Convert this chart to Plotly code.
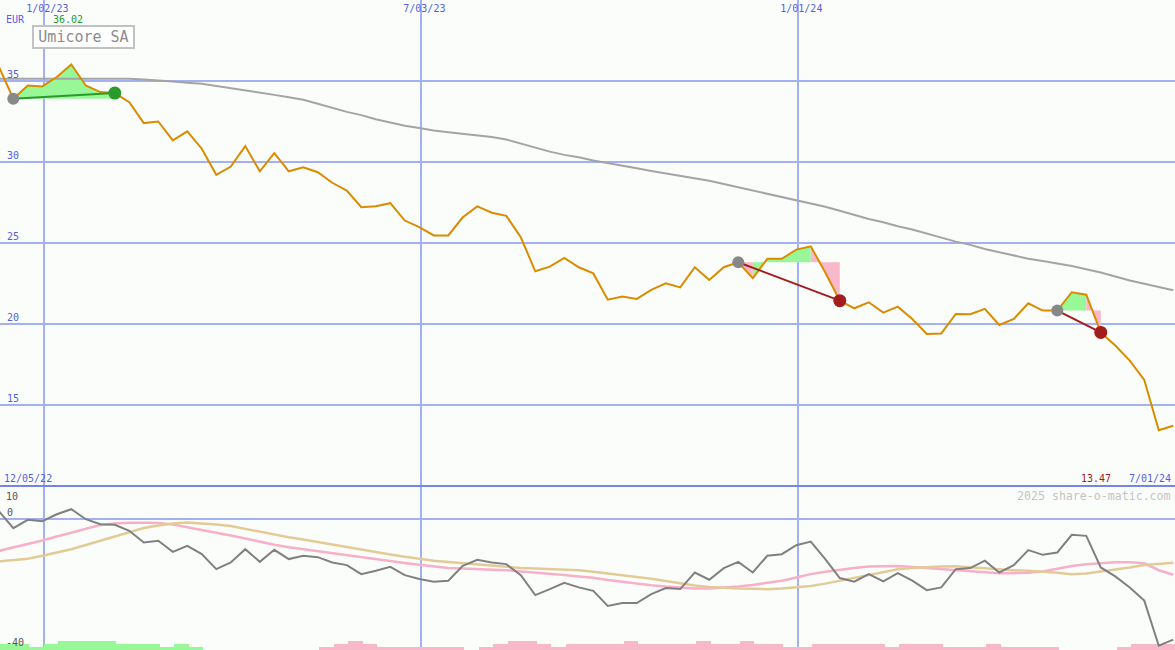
import pandas as pd
import plotly.graph_objects as go

# ---------------- data (weekly) ----------------
week_dates = pd.date_range("2022-12-11", periods=82, freq="7D")

price = [35.90, 33.91, 34.73, 34.67, 35.25, 36.02, 34.73, 34.32, 34.26, 33.70,
         32.41, 32.51, 31.34, 31.90, 30.83, 29.22, 29.73, 30.99, 29.44, 30.56,
         29.44, 29.69, 29.38, 28.73, 28.25, 27.22, 27.28, 27.47, 26.40, 25.99,
         25.48, 25.48, 26.60, 27.27, 26.88, 26.69, 25.37, 23.27, 23.56, 24.10,
         23.52, 23.14, 21.52, 21.71, 21.57, 22.12, 22.53, 22.28, 23.52, 22.74,
         23.52, 23.83, 22.84, 24.04, 24.04, 24.61, 24.81, 23.20, 21.46, 20.99,
         21.36, 20.72, 21.09, 20.33, 19.41, 19.44, 20.64, 20.62, 20.95, 19.96,
         20.33, 21.30, 20.85, 20.85, 21.98, 21.83, 19.50, 18.69, 17.76, 16.57,
         13.47, 13.75]

ma40 = [35.15, 35.15, 35.15, 35.15, 35.15, 35.16, 35.17, 35.17, 35.16, 35.14,
        35.10, 35.05, 34.97, 34.90, 34.83, 34.70, 34.57, 34.44, 34.30, 34.15,
        34.00, 33.85, 33.60, 33.35, 33.10, 32.90, 32.65, 32.45, 32.25, 32.10,
        31.95, 31.85, 31.75, 31.65, 31.55, 31.40, 31.15, 30.90, 30.65, 30.45,
        30.30, 30.10, 29.95, 29.80, 29.62, 29.45, 29.30, 29.15, 29.00, 28.85,
        28.65, 28.45, 28.25, 28.05, 27.85, 27.65, 27.45, 27.25, 27.00, 26.75,
        26.50, 26.30, 26.05, 25.85, 25.60, 25.35, 25.10, 24.90, 24.65, 24.45,
        24.25, 24.05, 23.90, 23.75, 23.60, 23.40, 23.20, 22.95, 22.70, 22.50,
        22.30, 22.10]

deviation = [2.5, -2.75, -0.2, -0.6, 1.5, 3.05, 0.0, -1.53, -1.73, -3.56,
             -7.12, -6.6, -9.97, -8.14, -10.69, -15.27, -13.24, -9.16, -13.04, -9.36,
             -12.2, -11.2, -11.6, -13.24, -14.05, -16.8, -15.78, -14.56, -17.1, -18.3,
             -19.1, -18.8, -14.25, -12.4, -13.24, -13.74, -17.1, -23.2, -21.37, -19.45,
             -20.86, -21.9, -26.5, -25.65, -25.65, -22.9, -21.07, -21.37, -16.3, -18.5,
             -14.96, -13.04, -16.3, -11.2, -10.7, -7.94, -6.82, -12.2, -18.0, -19.1,
             -16.8, -19.0, -16.5, -18.8, -21.7, -20.86, -15.27, -14.96, -12.7, -16.3,
             -14.05, -9.47, -10.9, -10.18, -4.78, -5.09, -14.76, -17.5, -20.86, -24.9,
             -38.7, -36.85]

dev_fast = [-9.7, -8.7, -7.7, -6.5, -5.3, -4.2, -3.0, -1.8, -1.3, -1.05,
            -1.05, -1.2, -1.6, -2.4, -3.2, -4.1, -5.0, -5.9, -6.9, -7.8,
            -8.6, -9.2, -9.8, -10.4, -11.0, -11.7, -12.4, -12.9, -13.4, -13.9,
            -14.4, -14.9, -15.1, -15.2, -15.3, -15.6, -16.0, -16.3, -16.7, -17.1,
            -17.5, -17.9, -18.6, -19.2, -19.7, -20.2, -20.6, -20.9, -21.2, -21.2,
            -21.0, -20.6, -20.1, -19.5, -18.8, -17.8, -16.8, -16.1, -15.4, -14.9,
            -14.5, -14.3, -14.3, -14.6, -14.9, -15.2, -15.4, -15.8, -16.2, -16.5,
            -16.5, -16.4, -16.0, -15.2, -14.3, -13.8, -13.4, -13.2, -13.2, -13.5,
            -15.6, -17.0]

dev_slow = [-12.9, -12.5, -12.1, -11.2, -10.3, -9.2, -7.9, -6.6, -5.2, -3.9,
            -2.7, -1.9, -1.3, -1.0, -1.25, -1.6, -2.1, -3.0, -3.9, -4.7,
            -5.5, -6.2, -7.0, -7.8, -8.5, -9.3, -10.0, -10.8, -11.5, -12.2,
            -12.7, -13.1, -13.5, -13.9, -14.3, -14.6, -14.9, -15.1, -15.2, -15.3,
            -15.6, -16.1, -16.6, -17.1, -17.6, -18.2, -18.9, -19.6, -20.3, -20.7,
            -21.0, -21.2, -21.3, -21.4, -21.2, -20.8, -20.4, -19.7, -18.8, -18.0,
            -16.9, -16.0, -15.3, -14.9, -14.6, -14.5, -14.4, -14.7, -15.1, -15.5,
            -15.6, -15.8, -16.0, -16.4, -16.8, -16.6, -16.0, -15.5, -14.8, -14.0,
            -13.6, -13.3]

# signed strength per week (positive = green, negative = pink)
bar_levels = [2, 2, 1, 2, 3, 3, 3, 3, 2, 2, 2, 1, 2, 1,
              0, 0, 0, 0, 0, 0, 0, 0,
              -1, -2, -3, -2, -1, -1, -1, -1, -1, -1, 0, -1, -2, -3, -3, -2, -1,
              -2, -2, -2, -2, -3, -2, -2, -2, -2, -3, -2, -2, -3, -2, -2, -1, -1,
              -2, -2, -2, -2, -2, -1, -2, -2, -2, -1, -1, -1, -2, -1, -1, -1, -1,
              0, 0, 0, 0, -1, -2, -2, -2]

trades = [(1, 8), (51, 58), (73, 76)]   # (entry week index, exit week index)

date_ticks = ["2023-01-02", "2023-07-03", "2024-01-01"]
date_tick_text = ["1/02/23", "7/03/23", "1/01/24"]
price_ticks = [15, 20, 25, 30, 35]
osc_top, osc_zero, osc_bottom = 10, 0, -40
title = "Umicore SA"
currency = "EUR"
high_label = "36.02"
low_label = "13.47"
start_label = "12/05/22"
end_label = "7/01/24"
credit = "2025 share-o-matic.com"

# ---------------- style ----------------
W, H = 1175, 650
BG = "#fbfdfb"
GRID = "#a3b1f2"
SEP = "#7585e6"
BLUE_TXT = "#5560e6"
ORANGE = "#d98c00"
MA_GRAY = "#a4a4a4"
DEV_GRAY = "#808080"
PINK = "#f7b0c8"
TAN = "#e3cb98"
FILL_GREEN = "#98f898"
FILL_PINK = "#f9b8c9"
WIN = "#2a9a2a"
LOSS = "#a31d1d"
ENTRY = "#888888"
LABEL_GRAY = "#555555"
FONT = "DejaVu Sans Mono"
SPLIT = 163.5 / H           # lower panel height fraction
X_RANGE = ["2022-12-11 14:00", "2024-06-30 20:00"]

fig = go.Figure()

# ---- trade fills (per weekly segment, relative to entry level) ----
gx, gy, px_, py = [], [], [], []
for e, x in trades:
    lvl = price[e]
    for k in range(e, x):
        xs = [week_dates[k], week_dates[k], week_dates[k + 1], week_dates[k + 1], week_dates[k], None]
        ys = [lvl, price[k], price[k + 1], lvl, lvl, None]
        if price[k + 1] >= lvl:
            gx += xs; gy += ys
        else:
            px_ += xs; py += ys
fig.add_trace(go.Scatter(x=gx, y=gy, mode="none", fill="toself", fillcolor=FILL_GREEN,
                         xaxis="x", yaxis="y", hoverinfo="skip", showlegend=False))
fig.add_trace(go.Scatter(x=px_, y=py, mode="none", fill="toself", fillcolor=FILL_PINK,
                         xaxis="x", yaxis="y", hoverinfo="skip", showlegend=False))

# ---- moving average and price ----
fig.add_trace(go.Scatter(x=week_dates, y=ma40, mode="lines", line=dict(color=MA_GRAY, width=2),
                         xaxis="x", yaxis="y", showlegend=False))
fig.add_trace(go.Scatter(x=week_dates, y=price, mode="lines", line=dict(color=ORANGE, width=2),
                         xaxis="x", yaxis="y", showlegend=False))

# ---- trade lines and markers ----
for e, x in trades:
    col = WIN if price[x] >= price[e] else LOSS
    fig.add_trace(go.Scatter(x=[week_dates[e], week_dates[x]], y=[price[e], price[x]], mode="lines",
                             line=dict(color=col, width=2), xaxis="x", yaxis="y", showlegend=False))
    fig.add_trace(go.Scatter(x=[week_dates[e]], y=[price[e]], mode="markers",
                             marker=dict(color=ENTRY, size=12), xaxis="x", yaxis="y", showlegend=False))
    fig.add_trace(go.Scatter(x=[week_dates[x]], y=[price[x]], mode="markers",
                             marker=dict(color=col, size=13), xaxis="x", yaxis="y", showlegend=False))

# ---- lower panel ----
DAY_MS = 86400000
fig.add_trace(go.Bar(x=week_dates[:len(bar_levels)], y=[abs(v) * 0.92 for v in bar_levels], base=osc_bottom,
                     width=7 * DAY_MS, offset=0.6 * DAY_MS,
                     marker=dict(color=[FILL_GREEN if v > 0 else FILL_PINK for v in bar_levels], line_width=0),
                     xaxis="x2", yaxis="y2", showlegend=False))
fig.add_trace(go.Scatter(x=week_dates, y=dev_fast, mode="lines", line=dict(color=PINK, width=2.5),
                         xaxis="x2", yaxis="y2", showlegend=False))
fig.add_trace(go.Scatter(x=week_dates, y=dev_slow, mode="lines", line=dict(color=TAN, width=2.5),
                         xaxis="x2", yaxis="y2", showlegend=False))
fig.add_trace(go.Scatter(x=week_dates, y=deviation, mode="lines", line=dict(color=DEV_GRAY, width=2),
                         xaxis="x2", yaxis="y2", showlegend=False))

tickfont_blue = dict(family=FONT, size=10, color=BLUE_TXT)
tickfont_gray = dict(family=FONT, size=10, color=LABEL_GRAY)

fig.update_layout(
    width=W, height=H, margin=dict(l=0, r=0, t=0, b=0),
    paper_bgcolor=BG, plot_bgcolor=BG, showlegend=False, bargap=0,
    xaxis=dict(domain=[0, 1], anchor="y", type="date", range=X_RANGE, side="top",
               tickvals=date_ticks, ticktext=date_tick_text, ticklabelposition="inside",
               ticks="", tickfont=tickfont_blue, ticklabelshift=3, ticklabelstandoff=2,
               showgrid=True, gridcolor=GRID, gridwidth=2, zeroline=False, showline=False),
    yaxis=dict(domain=[SPLIT, 1], anchor="x", range=[10, 40], tickvals=price_ticks,
               ticklabelposition="inside top", ticks="", tickfont=tickfont_blue, ticklabelstandoff=4,
               showgrid=True, gridcolor=GRID, gridwidth=2, zeroline=False, showline=False),
    xaxis2=dict(domain=[0, 1], anchor="y2", type="date", range=X_RANGE, side="top",
                tickvals=date_ticks, showticklabels=False, ticks="",
                showgrid=True, gridcolor=GRID, gridwidth=2, zeroline=False,
                showline=True, linecolor=SEP, linewidth=2),
    yaxis2=dict(domain=[0, SPLIT], anchor="x2", range=[osc_bottom, osc_top], tickvals=[osc_zero],
                ticklabelposition="inside top", ticks="", tickfont=tickfont_gray, ticklabelstandoff=4,
                showgrid=True, gridcolor=GRID, gridwidth=2, zeroline=False, showline=False),
)

# lower-panel end labels, placed through the lower y axis
fig.add_annotation(text=str(osc_top), x=4 / W, xref="paper", y=osc_top, yref="y2",
                   xanchor="left", yanchor="top", yshift=-2, showarrow=False, font=tickfont_gray)
fig.add_annotation(text=str(osc_bottom), x=4 / W, xref="paper", y=osc_bottom, yref="y2",
                   xanchor="left", yanchor="bottom", yshift=0, showarrow=False, font=tickfont_gray)


def ann(text, x_px, y_px, color, size=10, xanchor="left", **kw):
    fig.add_annotation(text=text, x=x_px / W, y=1 - y_px / H, xref="paper", yref="paper",
                       xanchor=xanchor, yanchor="middle", showarrow=False,
                       font=dict(family=FONT, size=size, color=color), **kw)


ann(currency, 4, 19, BLUE_TXT)
ann(high_label, 51, 19, WIN)
ann(start_label, 2, 478, BLUE_TXT)
ann(low_label, 1113, 478, LOSS, xanchor="right")
ann(end_label, 1173, 478, BLUE_TXT, xanchor="right")
ann(credit, 1173, 496, "#c4c4c4", size=11.6, xanchor="right")
fig.add_annotation(text=title, x=32 / W, y=1 - 25 / H, xref="paper", yref="paper",
                   xanchor="left", yanchor="top", showarrow=False, width=97,
                   font=dict(family=FONT, size=15, color="#8c8c8c"),
                   bgcolor="#ffffff", bordercolor="#c2c2c2", borderwidth=2, borderpad=1)

fig.write_html("out.html", config={"displayModeBar": False},
               post_script="document.body.style.margin='0';document.body.style.overflow='hidden';")
